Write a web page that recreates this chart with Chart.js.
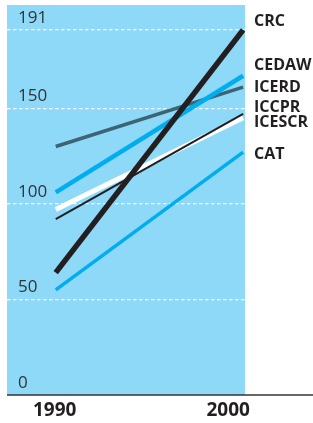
<!DOCTYPE html>
<html>
<head>
<meta charset="utf-8">
<script src="https://cdn.jsdelivr.net/npm/chart.js@4/dist/chart.umd.min.js"></script>
<style>
  body { margin: 0; background: #fff; }
  canvas { display: block; }
</style>
</head>
<body>
<canvas id="chart" width="313" height="423"></canvas>
<script>
// data
let years = [1990, 2000];
let yTicks = [0, 50, 100, 150, 191];
let names = ["CRC", "CEDAW", "ICERD", "ICCPR", "ICESCR", "CAT"];
let crc = [64, 191];
let cedaw = [106, 167];
let icerd = [130, 161];
let iccpr = [92, 147];
let icescr = [97, 145];
let cat = [55, 127];

let series = [crc, cedaw, icerd, iccpr, icescr, cat];

// styles
let colors = ["#231f20", "#00aeef", "#3b6474", "#231f20", "#ffffff", "#00aeef"];
let widths = [5.5, 4.5, 3.5, 2, 5, 3.5];
let labelShift = [-8, -10, 0, -7, 4.5, 2.5]; // nudge the end labels apart
let yearShift = [-1, -15];

let datasets = series.map((vals, i) => {
    return {
        label: names[i],
        data: years.map((yr, j) => ({ x: yr, y: vals[j] })),
        borderColor: colors[i],
        borderWidth: widths[i],
        pointRadius: 0,
        borderCapStyle: "butt",
        order: i,
    };
});

let decor = {
    id: "decor",
    beforeDraw(chart) {
        let ctx = chart.ctx;
        let a = chart.chartArea;
        ctx.save();
        ctx.fillStyle = "#8ed8f8";
        ctx.fillRect(a.left, a.top, a.right - a.left, a.bottom - a.top);
        ctx.restore();
    },
    afterDraw(chart) {
        let ctx = chart.ctx;
        let a = chart.chartArea;
        let xs = chart.scales.x;
        let ys = chart.scales.y;
        ctx.save();

        // baseline
        ctx.strokeStyle = "#333333";
        ctx.lineWidth = 1.5;
        ctx.beginPath();
        ctx.moveTo(a.left, a.bottom);
        ctx.lineTo(chart.width, a.bottom);
        ctx.stroke();

        // year labels
        ctx.fillStyle = "#231f20";
        ctx.font = "bold 19px 'Open Sans'";
        ctx.textAlign = "center";
        ctx.textBaseline = "middle";
        years.forEach((yr, i) => {
            ctx.fillText(String(yr), xs.getPixelForValue(yr) + yearShift[i], a.bottom + 16);
        });

        // series labels at line ends
        ctx.font = "bold 16px 'Open Sans'";
        ctx.textAlign = "left";
        series.forEach((vals, i) => {
            let y = ys.getPixelForValue(vals[vals.length - 1]) + labelShift[i];
            ctx.fillText(names[i], a.right + 9, y);
        });
        ctx.restore();
    },
};

let ctx = document.querySelector("#chart").getContext("2d");
let myChart = new Chart(ctx, {
    type: "line",
    data: { datasets: datasets },
    options: {
        responsive: false,
        animation: false,
        layout: { padding: { left: 7, right: 68, top: 5, bottom: 28 } },
        plugins: {
            legend: { display: false },
            tooltip: { enabled: false },
        },
        scales: {
            x: {
                type: "linear",
                min: 1987.4,
                max: 2000.1,
                display: false,
            },
            y: {
                type: "linear",
                min: 0,
                max: 204,
                afterBuildTicks: (s) => {
                    s.ticks = yTicks.map((v) => ({ value: v }));
                },
                afterFit: (s) => {
                    s.width = 0;
                    s.paddingTop = 0;
                    s.paddingBottom = 0;
                },
                border: { display: false, dash: [3.5, 2.5] },
                grid: {
                    drawTicks: false,
                    lineWidth: 1.2,
                    color: (c) => (c.tick && c.tick.value === 0 ? "rgba(0,0,0,0)" : "#ffffff"),
                },
                ticks: {
                    mirror: true,
                    padding: 11,
                    labelOffset: -12,
                    color: "#333333",
                    font: { family: "'Open Sans'", size: 17 },
                    callback: (v) => String(v),
                },
            },
        },
    },
    plugins: [decor],
});
</script>
</body>
</html>
